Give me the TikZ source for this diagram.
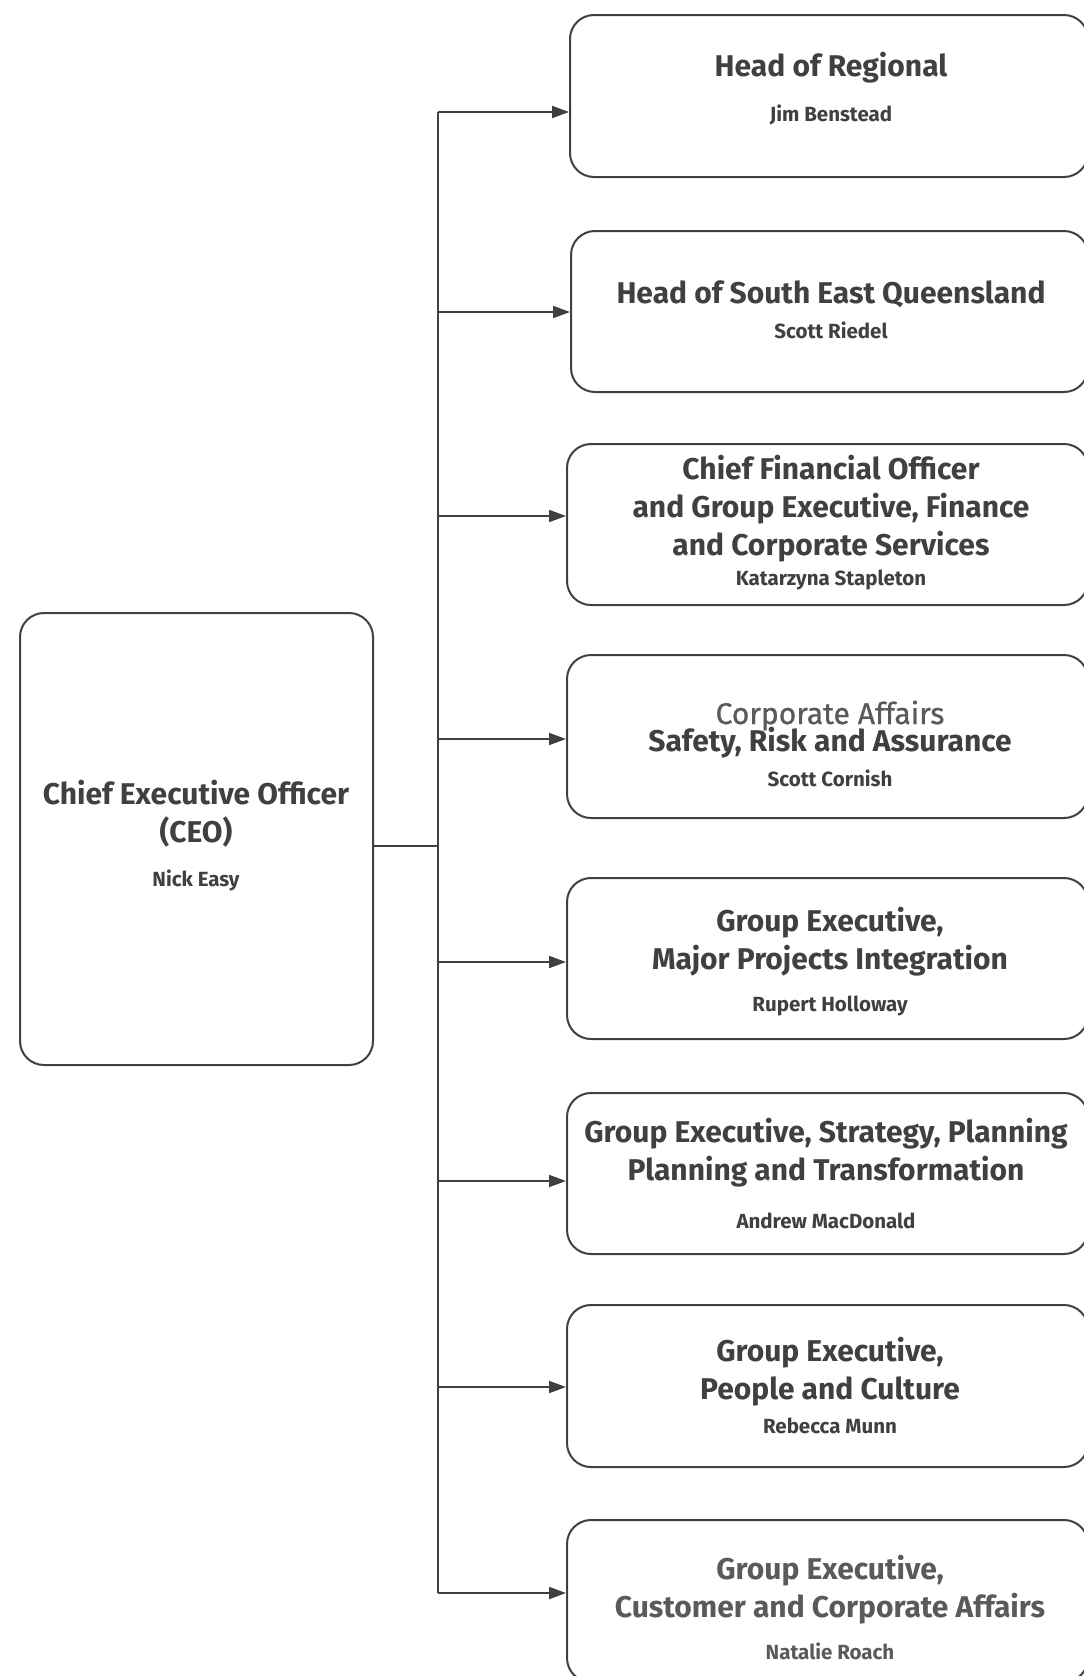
\documentclass[tikz,border=0pt]{standalone}
\usepackage{fontspec}
\setmainfont{Fira Sans}
\newfontfamily\medfont{Fira Sans}[FakeBold=0.8]
\usetikzlibrary{arrows.meta}
\definecolor{ink}{HTML}{404040}
\definecolor{soft}{HTML}{5A5A5A}
\tikzset{
  box/.style={draw=ink, line width=2pt, rounded corners=24pt, inner sep=0pt},
  conn/.style={draw=ink, line width=2pt},
  arr/.style={conn, -{Triangle[length=17pt,width=12pt]}},
  ttl/.style={text=ink, font=\bfseries\fontsize{30}{38}\selectfont, align=center, inner sep=0pt},
  ttlsoft/.style={text=soft, font=\bfseries\fontsize{30}{38}\selectfont, align=center, inner sep=0pt},
  nm/.style={text=ink, font=\bfseries\fontsize{20.5}{22}\selectfont, inner sep=0pt},
  nmsoft/.style={text=soft, font=\bfseries\fontsize{20.5}{22}\selectfont, inner sep=0pt},
}
\begin{document}
\begin{tikzpicture}[x=1pt,y=-1pt]
\useasboundingbox[fill=white] (0,0) rectangle (1084,1676);
% CEO
\node[box, minimum width=353pt, minimum height=452pt] (ceo) at (196.5,839) {};
\node[ttl] (ceot) at (196,814) {Chief Executive Officer\\(CEO)};
\node[nm] (ceon) at (196,880) {Nick Easy};
% boxes
\node[box, minimum width=518pt, minimum height=162pt] (b1) at (829,96) {};
\node[box, minimum width=517pt, minimum height=161pt] (b2) at (829.5,311.5) {};
\node[box, minimum width=521pt, minimum height=161pt] (b3) at (827.5,524.5) {};
\node[box, minimum width=521pt, minimum height=163pt] (b4) at (827.5,736.5) {};
\node[box, minimum width=521pt, minimum height=161pt] (b5) at (827.5,958.5) {};
\node[box, minimum width=521pt, minimum height=161pt] (b6) at (827.5,1173.5) {};
\node[box, minimum width=521pt, minimum height=162pt] (b7) at (827.5,1386) {};
\node[box, minimum width=521pt, minimum height=162pt] (b8) at (827.5,1601) {};
% texts
\node[ttl] (t1) at (831,68) {Head of Regional};
\node[nm] (n1) at (831,115) {Jim Benstead};
\node[ttl] (t2) at (831,294.5) {Head of South East Queensland};
\node[nm] (n2) at (831,330) {Scott Riedel};
\node[ttl] (t3) at (831,509) {Chief Financial Officer\\and Group Executive, Finance\\and Corporate Services};
\node[nm] (n3) at (831,580) {Katarzyna Stapleton};
\node[text=soft, font=\medfont\fontsize{30}{37}\selectfont, inner sep=0pt] (t4a) at (830,715.5) {Corporate Affairs};
\node[ttl] (t4) at (830,743) {Safety, Risk and Assurance};
\node[nm] (n4) at (830,778) {Scott Cornish};
\node[ttl] (t5) at (830,942) {Group Executive,\\Major Projects Integration};
\node[nm] (n5) at (830,1006) {Rupert Holloway};
\node[ttl] (t6) at (826,1153) {Group Executive, Strategy, Planning\\Planning and Transformation};
\node[nm] (n6) at (826,1221) {Andrew MacDonald};
\node[ttl] (t7) at (830,1372) {Group Executive,\\People and Culture};
\node[nm] (n7) at (830,1426) {Rebecca Munn};
\node[ttlsoft] (t8) at (830,1590) {Group Executive,\\Customer and Corporate Affairs};
\node[nmsoft] (n8) at (830,1651) {Natalie Roach};
% connectors
\coordinate (j) at (438,846);
\coordinate (a1) at (438,112);
\coordinate (a2) at (438,312);
\coordinate (a3) at (438,516);
\coordinate (a4) at (438,739);
\coordinate (a5) at (438,962);
\coordinate (a6) at (438,1181);
\coordinate (a7) at (438,1387);
\coordinate (a8) at (438,1593);
\draw[conn] (ceo.east |- j) -- (j);
\draw[conn] (a1) -- (a8);
\foreach \i in {1,...,8} {
  \draw[arr] (a\i) -- (a\i -| b\i.west);
}
\end{tikzpicture}
\end{document}
